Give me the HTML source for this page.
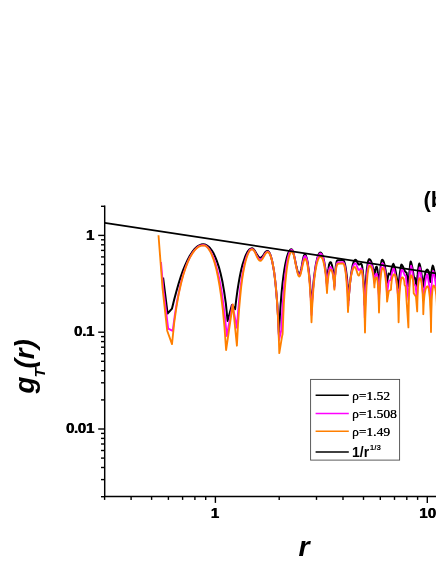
<!DOCTYPE html>
<html><head><meta charset="utf-8"><title>g_T(r)</title>
<style>
html,body{margin:0;padding:0;background:#fff;}
body{width:436px;height:564px;overflow:hidden;position:relative;font-family:"Liberation Sans",sans-serif;}
svg{position:absolute;left:0;top:0;display:block;will-change:transform;}
text{font-family:"Liberation Sans",sans-serif;fill:#000;}
.tl{font-weight:bold;font-size:15.3px;letter-spacing:-0.45px;}
.lg{font-family:"Liberation Serif",serif;font-size:13.5px;}
</style></head><body>
<svg width="436" height="564" viewBox="0 0 436 564">
<rect width="436" height="564" fill="#fff"/>
<g fill="none" stroke-linejoin="round" stroke-linecap="butt" stroke-width="1.85">
<path stroke="#000" stroke-width="2.0" d="M163.1,277.5 L167.6,313.5 L172.0,308.6 L174.2,299.4 L176.5,291.0 L178.7,283.3 L180.9,276.4 L183.1,270.2 L185.4,264.7 L187.6,259.9 L189.8,255.7 L192.1,252.2 L194.3,249.3 L196.5,247.1 L198.7,245.6 L201.0,244.6 L203.2,244.3 L204.9,244.5 L206.7,245.3 L208.4,246.5 L210.2,248.3 L211.9,250.6 L213.7,253.6 L215.4,257.3 L217.1,261.7 L218.9,267.1 L220.6,273.5 L222.4,281.5 L224.1,291.3 L225.9,303.9 L227.6,320.9 L231.9,305.0 L235.1,309.2 L236.3,299.0 L237.5,290.2 L238.7,282.6 L239.9,276.0 L241.1,270.3 L242.3,265.4 L243.6,261.2 L244.8,257.7 L246.0,254.7 L247.2,252.4 L248.4,250.6 L249.6,249.3 L250.8,248.6 L252.0,248.3 L253.0,248.7 L254.1,249.7 L255.1,251.2 L256.1,253.1 L257.2,254.9 L258.2,256.4 L259.3,257.4 L260.3,257.8 L261.2,257.5 L262.1,256.8 L263.0,255.7 L263.9,254.4 L264.7,253.0 L265.6,251.9 L266.5,251.2 L267.4,250.9 L268.2,251.2 L269.0,252.1 L269.9,253.5 L270.7,255.6 L271.5,258.4 L272.3,261.8 L273.1,266.1 L274.0,271.2 L274.8,277.3 L275.6,284.7 L276.4,293.5 L277.3,304.2 L278.1,317.5 L278.9,334.5 L279.8,317.2 L280.7,303.6 L281.6,292.7 L282.5,283.7 L283.4,276.2 L284.3,269.9 L285.2,264.7 L286.1,260.4 L287.0,256.8 L287.9,254.0 L288.8,251.9 L289.7,250.4 L290.6,249.5 L291.5,249.2 L292.5,250.2 L293.4,252.9 L294.4,256.9 L295.4,261.8 L296.4,266.6 L297.4,270.6 L298.3,273.3 L299.3,274.3 L300.0,273.5 L300.7,271.4 L301.4,268.2 L302.1,264.4 L302.7,260.6 L303.4,257.4 L304.1,255.3 L304.8,254.5 L305.3,254.7 L305.8,255.4 L306.2,256.5 L306.7,258.1 L307.2,260.2 L307.7,262.7 L308.1,265.8 L308.6,269.5 L309.1,273.8 L309.6,278.8 L310.1,284.6 L310.5,291.3 L311.0,299.0 L311.5,307.9 L312.1,298.6 L312.8,290.7 L313.4,283.8 L314.0,277.8 L314.7,272.6 L315.3,268.1 L315.9,264.3 L316.6,261.1 L317.2,258.5 L317.9,256.3 L318.5,254.7 L319.1,253.5 L319.8,252.8 L320.4,252.6 L320.9,252.7 L321.3,253.1 L321.8,253.8 L322.3,254.8 L322.8,256.0 L323.2,257.5 L323.7,259.4 L324.2,261.6 L324.6,264.2 L325.1,267.2 L325.6,270.7 L326.1,274.7 L326.5,279.3 L327.0,284.7 L327.2,280.9 L327.5,277.7 L327.7,274.9 L328.0,272.4 L328.2,270.3 L328.5,268.5 L328.7,267.0 L328.9,265.7 L329.2,264.6 L329.4,263.7 L329.7,263.0 L329.9,262.6 L330.2,262.3 L330.4,262.2 L330.7,262.3 L331.0,262.6 L331.3,263.1 L331.5,263.8 L331.8,264.7 L332.1,265.8 L332.4,267.2 L332.7,268.9 L333.0,270.8 L333.3,273.0 L333.5,275.6 L333.8,278.5 L334.1,281.9 L334.4,285.9 L334.6,281.6 L334.8,277.9 L335.1,274.7 L335.3,272.0 L335.5,269.6 L335.7,267.5 L335.9,265.7 L336.2,264.2 L336.4,263.0 L336.6,262.0 L336.8,261.3 L337.1,260.7 L337.3,260.4 L337.5,260.3 L338.2,260.3 L338.9,260.3 L339.6,260.2 L340.2,260.2 L340.9,260.2 L341.6,260.1 L342.3,260.1 L343.0,260.1 L343.4,260.3 L343.8,260.8 L344.2,261.6 L344.6,262.8 L345.0,264.3 L345.4,266.2 L345.8,268.5 L346.2,271.3 L346.6,274.5 L347.0,278.2 L347.4,282.5 L347.8,287.5 L348.2,293.2 L348.6,299.9 L349.1,293.2 L349.6,287.4 L350.1,282.4 L350.6,278.1 L351.1,274.3 L351.6,271.1 L352.1,268.3 L352.5,266.0 L353.0,264.0 L353.5,262.5 L354.0,261.3 L354.5,260.5 L355.0,260.0 L355.5,259.8 L355.9,260.0 L356.4,260.5 L356.8,261.3 L357.2,262.1 L357.6,263.0 L358.0,263.8 L358.5,264.3 L358.9,264.5 L359.2,264.5 L359.5,264.4 L359.8,264.3 L360.0,264.2 L360.3,264.0 L360.6,263.9 L360.9,263.8 L361.2,263.8 L361.4,264.0 L361.7,264.5 L361.9,265.3 L362.2,266.6 L362.4,268.2 L362.7,270.1 L362.9,272.5 L363.2,275.4 L363.4,278.7 L363.7,282.6 L363.9,287.0 L364.2,292.2 L364.4,298.1 L364.7,305.0 L365.0,297.3 L365.3,290.7 L365.7,285.0 L366.0,280.1 L366.3,275.8 L366.6,272.1 L366.9,268.9 L367.3,266.3 L367.6,264.0 L367.9,262.3 L368.2,260.9 L368.6,260.0 L368.9,259.4 L369.2,259.2 L369.6,259.3 L369.9,259.5 L370.3,259.9 L370.7,260.5 L371.1,261.2 L371.4,262.1 L371.8,263.3 L372.2,264.6 L372.5,266.1 L372.9,267.9 L373.3,270.0 L373.7,272.3 L374.0,275.1 L374.4,278.3 L374.5,276.4 L374.7,274.7 L374.8,273.2 L375.0,272.0 L375.1,270.9 L375.3,270.0 L375.4,269.2 L375.6,268.5 L375.8,267.9 L375.9,267.5 L376.1,267.1 L376.2,266.9 L376.4,266.7 L376.5,266.7 L376.7,266.8 L376.9,267.2 L377.0,267.8 L377.2,268.6 L377.4,269.7 L377.6,271.1 L377.8,272.7 L377.9,274.7 L378.1,276.9 L378.3,279.6 L378.5,282.6 L378.6,286.2 L378.8,290.3 L379.0,295.0 L379.2,289.1 L379.5,284.0 L379.7,279.6 L379.9,275.8 L380.1,272.5 L380.4,269.7 L380.6,267.3 L380.8,265.2 L381.1,263.5 L381.3,262.2 L381.5,261.1 L381.7,260.4 L382.0,259.9 L382.2,259.8 L382.5,259.9 L382.9,260.2 L383.2,260.7 L383.5,261.4 L383.9,262.3 L384.2,263.4 L384.5,264.7 L384.9,266.3 L385.2,268.2 L385.6,270.4 L385.9,272.9 L386.2,275.8 L386.6,279.1 L386.9,283.0 L388.6,273.6 L390.4,274.5 L390.8,272.6 L391.1,270.9 L391.5,269.3 L391.9,267.8 L392.3,266.5 L392.6,265.3 L393.0,264.4 L393.4,263.9 L394.0,265.1 L394.6,267.1 L395.3,269.7 L395.9,272.7 L396.5,276.1 L397.1,279.8 L397.8,283.8 L398.4,288.0 L398.8,283.9 L399.1,280.0 L399.5,276.4 L399.9,273.2 L400.3,270.2 L400.6,267.7 L401.0,265.7 L401.4,264.6 L401.8,264.9 L402.3,265.5 L402.8,266.3 L403.2,267.1 L403.6,268.1 L404.1,269.1 L404.6,270.3 L405.0,271.5 L406.6,272.8 L408.5,286.0 L408.8,281.7 L409.1,277.6 L409.3,273.8 L409.6,270.4 L409.9,267.3 L410.1,264.7 L410.4,262.6 L410.7,261.4 L411.1,262.2 L411.5,263.7 L411.9,265.5 L412.4,267.7 L412.8,270.1 L413.2,272.7 L413.6,275.5 L414.0,278.5 L414.9,277.8 L416.5,286.0 L416.9,282.0 L417.2,278.3 L417.6,274.9 L417.9,271.7 L418.2,268.9 L418.6,266.5 L418.9,264.6 L419.3,263.5 L419.8,264.7 L420.3,266.6 L420.8,269.2 L421.2,272.1 L421.7,275.4 L422.2,279.0 L422.7,282.9 L423.2,287.0 L423.5,284.1 L423.8,281.6 L424.1,279.4 L424.4,277.5 L424.7,275.9 L425.0,274.5 L425.2,273.3 L425.5,272.3 L425.8,271.4 L426.1,270.8 L426.4,270.3 L426.7,269.9 L427.0,269.7 L427.3,269.6 L427.5,269.7 L427.7,269.8 L427.9,270.1 L428.1,270.4 L428.3,270.9 L428.5,271.5 L428.8,272.2 L429.0,273.1 L429.2,274.1 L429.4,275.2 L429.6,276.6 L429.8,278.1 L430.0,279.9 L430.2,282.0 L430.5,279.1 L430.9,276.4 L431.2,273.9 L431.5,271.6 L431.8,269.6 L432.1,267.8 L432.5,266.4 L432.8,265.6 L433.3,266.6 L433.7,268.2 L434.2,270.3 L434.6,272.7 L435.1,275.4 L435.6,278.4 L436.0,281.6 L436.5,285.0"/>
<path stroke="#ff00ff" d="M161.0,262.0 L163.2,288.0 L168.2,328.6 L172.7,330.9 L174.9,314.3 L177.1,301.0 L179.3,290.0 L181.4,280.9 L183.6,273.2 L185.8,266.7 L188.0,261.2 L190.2,256.7 L192.4,253.0 L194.6,250.1 L196.7,247.8 L198.9,246.2 L201.1,245.3 L203.3,245.0 L205.0,245.3 L206.7,246.3 L208.3,248.0 L210.0,250.4 L211.7,253.5 L213.4,257.4 L215.1,262.2 L216.7,268.0 L218.4,274.8 L220.1,283.0 L221.8,292.7 L223.4,304.3 L225.1,318.4 L226.8,336.0 L232.5,304.6 L236.9,327.8 L238.0,312.6 L239.1,300.4 L240.1,290.3 L241.2,281.9 L242.3,274.8 L243.4,268.9 L244.4,263.9 L245.5,259.8 L246.6,256.4 L247.7,253.7 L248.8,251.6 L249.8,250.1 L250.9,249.3 L252.0,249.0 L253.0,249.4 L254.1,250.5 L255.1,252.2 L256.1,254.2 L257.2,256.3 L258.2,258.0 L259.3,259.1 L260.3,259.5 L261.2,259.2 L262.1,258.3 L263.0,257.1 L263.9,255.6 L264.8,254.0 L265.7,252.8 L266.6,251.9 L267.5,251.6 L268.3,251.9 L269.1,252.7 L270.0,254.2 L270.8,256.2 L271.6,258.9 L272.4,262.3 L273.2,266.6 L274.1,271.7 L274.9,277.9 L275.7,285.3 L276.5,294.5 L277.4,305.8 L278.2,320.4 L279.0,340.0 L281.4,329.7 L282.1,314.3 L282.9,301.9 L283.6,291.7 L284.3,283.2 L285.1,276.0 L285.8,270.0 L286.5,264.9 L287.3,260.7 L288.0,257.3 L288.8,254.5 L289.5,252.4 L290.2,251.0 L291.0,250.1 L291.7,249.8 L292.6,250.8 L293.6,253.6 L294.6,257.7 L295.5,262.6 L296.4,267.6 L297.4,271.7 L298.4,274.5 L299.3,275.5 L300.0,274.8 L300.7,272.6 L301.4,269.5 L302.1,265.8 L302.9,262.0 L303.6,258.9 L304.3,256.7 L305.0,256.0 L305.5,256.2 L305.9,256.9 L306.4,257.9 L306.9,259.5 L307.3,261.5 L307.8,264.1 L308.2,267.2 L308.7,270.9 L309.2,275.3 L309.6,280.6 L310.1,286.9 L310.6,294.5 L311.0,303.6 L311.5,315.0 L312.1,303.1 L312.8,293.6 L313.4,285.7 L314.0,279.2 L314.7,273.7 L315.3,269.0 L315.9,265.1 L316.6,261.9 L317.2,259.2 L317.9,257.1 L318.5,255.5 L319.1,254.4 L319.8,253.7 L320.4,253.5 L320.9,253.6 L321.3,254.0 L321.8,254.7 L322.3,255.6 L322.8,256.8 L323.2,258.3 L323.7,260.2 L324.2,262.5 L324.6,265.1 L325.1,268.3 L325.6,272.1 L326.1,276.6 L326.5,282.1 L327.0,289.0 L327.2,284.8 L327.5,281.3 L327.8,278.5 L328.0,276.2 L328.2,274.2 L328.5,272.6 L328.8,271.2 L329.0,270.0 L329.2,269.1 L329.5,268.3 L329.8,267.7 L330.0,267.3 L330.2,267.1 L330.5,267.0 L330.8,267.1 L331.1,267.3 L331.3,267.7 L331.6,268.2 L331.9,269.0 L332.2,269.9 L332.4,271.0 L332.7,272.3 L333.0,273.9 L333.3,275.8 L333.6,278.0 L333.8,280.7 L334.1,283.9 L334.4,288.0 L334.6,283.1 L334.9,279.1 L335.1,275.8 L335.4,273.1 L335.6,270.8 L335.9,268.9 L336.1,267.2 L336.3,265.9 L336.6,264.8 L336.8,263.9 L337.1,263.2 L337.3,262.8 L337.6,262.5 L337.8,262.4 L338.4,262.4 L339.1,262.4 L339.8,262.3 L340.4,262.3 L341.1,262.3 L341.7,262.2 L342.4,262.2 L343.0,262.2 L343.4,262.4 L343.8,262.8 L344.1,263.6 L344.5,264.8 L344.9,266.3 L345.3,268.2 L345.6,270.5 L346.0,273.3 L346.4,276.6 L346.8,280.5 L347.2,285.2 L347.5,290.7 L347.9,297.5 L348.3,306.0 L348.8,297.8 L349.3,291.1 L349.8,285.7 L350.3,281.1 L350.8,277.3 L351.3,274.1 L351.8,271.4 L352.3,269.1 L352.8,267.3 L353.3,265.8 L353.8,264.7 L354.3,263.9 L354.8,263.5 L355.3,263.3 L355.8,263.6 L356.2,264.3 L356.6,265.4 L357.1,266.6 L357.6,267.9 L358.0,269.0 L358.4,269.7 L358.9,270.0 L359.2,269.9 L359.5,269.8 L359.8,269.5 L360.0,269.2 L360.3,269.0 L360.6,268.7 L360.9,268.6 L361.2,268.5 L361.5,268.7 L361.7,269.2 L362.0,270.1 L362.2,271.4 L362.5,273.1 L362.7,275.3 L363.0,277.9 L363.3,281.0 L363.5,284.7 L363.8,289.2 L364.0,294.4 L364.3,300.8 L364.5,308.4 L364.8,318.0 L365.1,307.2 L365.5,298.6 L365.8,291.4 L366.1,285.5 L366.5,280.5 L366.8,276.3 L367.1,272.8 L367.5,269.8 L367.8,267.4 L368.2,265.5 L368.5,264.0 L368.8,263.0 L369.2,262.4 L369.5,262.2 L369.9,262.3 L370.2,262.5 L370.6,262.9 L370.9,263.4 L371.2,264.1 L371.6,265.0 L371.9,266.1 L372.3,267.5 L372.6,269.0 L373.0,270.9 L373.3,273.1 L373.7,275.8 L374.0,279.0 L374.4,283.0 L374.5,281.2 L374.7,279.8 L374.8,278.6 L375.0,277.6 L375.1,276.7 L375.3,276.0 L375.4,275.5 L375.6,275.0 L375.8,274.6 L375.9,274.2 L376.1,274.0 L376.2,273.8 L376.4,273.7 L376.5,273.7 L376.7,273.8 L376.9,274.1 L377.0,274.7 L377.2,275.4 L377.4,276.4 L377.6,277.7 L377.8,279.2 L377.9,281.1 L378.1,283.3 L378.3,285.9 L378.5,289.1 L378.6,292.8 L378.8,297.3 L379.0,303.0 L379.2,295.3 L379.5,289.2 L379.7,284.1 L380.0,279.9 L380.2,276.3 L380.5,273.3 L380.7,270.8 L380.9,268.7 L381.2,267.0 L381.4,265.6 L381.7,264.6 L381.9,263.9 L382.2,263.4 L382.4,263.3 L382.7,263.4 L383.1,263.7 L383.4,264.3 L383.7,265.1 L384.0,266.2 L384.4,267.5 L384.7,269.1 L385.0,271.0 L385.4,273.4 L385.7,276.1 L386.0,279.4 L386.3,283.3 L386.7,288.1 L387.0,294.0 L388.8,281.0 L390.6,280.0 L391.0,277.9 L391.4,275.9 L391.7,274.1 L392.1,272.5 L392.5,271.0 L392.9,269.7 L393.2,268.7 L393.6,268.1 L394.2,269.7 L394.8,272.4 L395.4,275.8 L396.1,279.8 L396.7,284.2 L397.3,289.1 L397.9,294.4 L398.5,300.0 L398.9,294.6 L399.3,289.5 L399.7,284.8 L400.1,280.5 L400.5,276.6 L400.9,273.3 L401.3,270.7 L401.7,269.2 L402.1,269.5 L402.4,270.0 L402.8,270.6 L403.1,271.3 L403.5,272.1 L403.9,273.0 L404.2,274.0 L404.6,275.0 L405.8,276.0 L408.4,300.0 L408.7,293.9 L409.1,288.3 L409.4,283.0 L409.8,278.2 L410.1,273.9 L410.4,270.2 L410.8,267.3 L411.1,265.6 L411.4,266.5 L411.8,268.0 L412.1,269.9 L412.5,272.2 L412.8,274.7 L413.1,277.4 L413.5,280.3 L413.8,283.5 L415.6,286.0 L416.9,299.0 L417.2,293.4 L417.6,288.2 L417.9,283.4 L418.3,279.0 L418.6,275.0 L419.0,271.6 L419.3,268.9 L419.7,267.4 L420.1,268.9 L420.6,271.5 L421.0,274.8 L421.4,278.6 L421.9,282.9 L422.3,287.6 L422.8,292.6 L423.2,298.0 L423.7,293.8 L424.2,289.9 L424.7,286.2 L425.1,282.9 L425.6,279.9 L426.1,277.4 L426.6,275.4 L427.1,274.2 L427.6,275.5 L428.0,277.7 L428.4,280.4 L428.9,283.6 L429.4,287.3 L429.8,291.2 L430.2,295.5 L430.7,300.0 L431.0,294.9 L431.3,290.1 L431.6,285.7 L431.9,281.6 L432.3,278.0 L432.6,274.9 L432.9,272.4 L433.2,271.0 L433.7,272.2 L434.1,274.2 L434.6,276.8 L435.1,279.8 L435.6,283.1 L436.1,286.8 L436.5,290.8 L437.0,295.0"/>
<path stroke="#ff7f00" d="M158.5,235.2 L162.5,288.0 L167.2,330.7 L172.0,344.1 L174.2,322.8 L176.5,306.7 L178.7,294.0 L181.0,283.7 L183.2,275.2 L185.5,268.2 L187.7,262.4 L189.9,257.6 L192.2,253.7 L194.4,250.6 L196.7,248.2 L198.9,246.6 L201.2,245.6 L203.4,245.3 L205.0,245.6 L206.6,246.7 L208.3,248.4 L209.9,250.9 L211.5,254.2 L213.1,258.3 L214.8,263.4 L216.4,269.6 L218.0,277.0 L219.6,286.0 L221.2,296.9 L222.9,310.3 L224.5,327.4 L226.1,350.0 L232.8,304.4 L236.9,345.7 L238.0,324.9 L239.1,309.2 L240.2,296.8 L241.2,286.8 L242.3,278.5 L243.4,271.7 L244.5,266.0 L245.6,261.3 L246.7,257.5 L247.8,254.5 L248.8,252.2 L249.9,250.6 L251.0,249.6 L252.1,249.3 L253.1,249.7 L254.2,251.0 L255.2,252.8 L256.2,255.1 L257.2,257.3 L258.2,259.1 L259.3,260.4 L260.3,260.8 L261.2,260.5 L262.1,259.5 L263.0,258.1 L264.0,256.4 L264.9,254.7 L265.8,253.3 L266.7,252.3 L267.6,252.0 L268.4,252.3 L269.3,253.2 L270.1,254.7 L270.9,256.9 L271.8,259.7 L272.6,263.3 L273.5,267.8 L274.3,273.3 L275.1,279.9 L276.0,288.1 L276.8,298.2 L277.6,311.1 L278.5,328.3 L279.3,353.1 L282.0,336.6 L282.6,334.0 L283.3,316.2 L283.9,302.7 L284.6,292.1 L285.3,283.5 L286.0,276.4 L286.6,270.6 L287.3,265.7 L288.0,261.7 L288.6,258.4 L289.3,255.8 L290.0,253.9 L290.7,252.5 L291.3,251.7 L292.0,251.4 L292.9,252.4 L293.8,255.1 L294.7,259.2 L295.6,264.0 L296.6,268.8 L297.5,272.9 L298.4,275.6 L299.3,276.6 L300.0,275.9 L300.7,274.0 L301.4,271.1 L302.1,267.8 L302.9,264.4 L303.6,261.5 L304.3,259.6 L305.0,258.9 L305.5,259.1 L305.9,259.7 L306.4,260.8 L306.9,262.3 L307.3,264.3 L307.8,266.8 L308.2,269.9 L308.7,273.6 L309.2,278.1 L309.6,283.5 L310.1,290.1 L310.6,298.3 L311.0,308.6 L311.5,322.3 L312.1,308.1 L312.8,297.4 L313.4,289.0 L314.0,282.1 L314.7,276.5 L315.3,271.8 L315.9,268.0 L316.6,264.8 L317.2,262.2 L317.9,260.1 L318.5,258.6 L319.1,257.5 L319.8,256.8 L320.4,256.6 L320.9,256.7 L321.3,257.1 L321.8,257.7 L322.3,258.5 L322.8,259.7 L323.2,261.1 L323.7,262.9 L324.2,265.0 L324.6,267.6 L325.1,270.7 L325.6,274.5 L326.1,279.2 L326.5,285.1 L327.0,293.0 L327.3,288.0 L327.5,284.2 L327.8,281.2 L328.1,278.8 L328.3,276.8 L328.6,275.2 L328.9,273.8 L329.1,272.7 L329.4,271.8 L329.6,271.0 L329.9,270.5 L330.2,270.1 L330.4,269.9 L330.7,269.8 L331.0,269.9 L331.2,270.1 L331.5,270.4 L331.8,270.9 L332.0,271.5 L332.3,272.3 L332.5,273.2 L332.8,274.4 L333.1,275.8 L333.3,277.5 L333.6,279.6 L333.9,282.1 L334.1,285.3 L334.4,289.6 L334.7,284.0 L334.9,279.8 L335.2,276.5 L335.4,273.8 L335.7,271.5 L335.9,269.7 L336.2,268.2 L336.5,266.9 L336.7,265.9 L337.0,265.1 L337.2,264.5 L337.5,264.0 L337.7,263.8 L338.0,263.7 L338.6,263.7 L339.2,263.7 L339.9,263.6 L340.5,263.6 L341.1,263.6 L341.8,263.5 L342.4,263.5 L343.0,263.5 L343.4,263.7 L343.7,264.1 L344.1,264.9 L344.4,266.1 L344.8,267.6 L345.1,269.5 L345.5,271.9 L345.9,274.7 L346.2,278.2 L346.6,282.4 L346.9,287.4 L347.3,293.6 L347.6,301.5 L348.0,312.0 L348.5,302.3 L349.0,295.0 L349.5,289.2 L349.9,284.5 L350.4,280.6 L350.9,277.4 L351.4,274.8 L351.9,272.6 L352.4,270.8 L352.9,269.4 L353.3,268.3 L353.8,267.6 L354.3,267.1 L354.8,267.0 L355.3,267.3 L355.8,268.3 L356.3,269.7 L356.8,271.3 L357.3,272.9 L357.8,274.3 L358.3,275.3 L358.8,275.6 L359.1,275.4 L359.4,274.8 L359.7,274.0 L360.0,273.0 L360.3,271.9 L360.6,271.1 L360.9,270.5 L361.2,270.3 L361.5,270.5 L361.7,271.1 L362.0,272.2 L362.3,273.6 L362.6,275.6 L362.8,278.0 L363.1,281.1 L363.4,284.7 L363.6,289.2 L363.9,294.5 L364.2,301.0 L364.5,309.0 L364.7,319.1 L365.0,332.6 L365.3,318.2 L365.7,307.3 L366.0,298.7 L366.3,291.8 L366.6,286.0 L367.0,281.3 L367.3,277.4 L367.6,274.1 L368.0,271.5 L368.3,269.4 L368.6,267.8 L368.9,266.7 L369.3,266.0 L369.6,265.8 L369.9,265.9 L370.3,266.1 L370.6,266.4 L371.0,267.0 L371.3,267.6 L371.7,268.5 L372.0,269.5 L372.3,270.8 L372.7,272.3 L373.0,274.2 L373.4,276.4 L373.7,279.2 L374.1,282.7 L374.4,287.4 L374.5,285.2 L374.7,283.6 L374.8,282.3 L375.0,281.2 L375.1,280.4 L375.3,279.6 L375.4,279.0 L375.6,278.6 L375.8,278.2 L375.9,277.8 L376.1,277.6 L376.2,277.4 L376.4,277.3 L376.5,277.3 L376.7,277.4 L376.9,277.8 L377.0,278.3 L377.2,279.2 L377.4,280.3 L377.6,281.7 L377.8,283.4 L377.9,285.5 L378.1,288.0 L378.3,291.0 L378.5,294.6 L378.6,299.2 L378.8,304.9 L379.0,312.5 L379.3,302.9 L379.5,295.6 L379.8,289.9 L380.1,285.3 L380.3,281.5 L380.6,278.3 L380.9,275.7 L381.1,273.5 L381.4,271.8 L381.6,270.4 L381.9,269.3 L382.2,268.6 L382.4,268.1 L382.7,268.0 L383.0,268.1 L383.3,268.4 L383.6,269.0 L384.0,269.8 L384.3,270.9 L384.6,272.2 L384.9,273.8 L385.2,275.8 L385.5,278.2 L385.8,281.1 L386.2,284.6 L386.5,288.9 L386.8,294.3 L387.1,301.6 L388.8,291.0 L391.0,289.8 L391.2,285.3 L391.5,282.6 L391.7,280.7 L391.9,279.2 L392.2,278.1 L392.4,277.2 L392.6,276.4 L392.9,275.8 L393.1,275.3 L393.4,274.9 L393.6,274.7 L393.8,274.5 L394.1,274.3 L394.3,274.3 L394.6,274.4 L394.9,274.8 L395.2,275.4 L395.5,276.3 L395.8,277.5 L396.1,279.0 L396.5,280.9 L396.8,283.2 L397.1,286.0 L397.4,289.6 L397.7,294.1 L398.0,300.0 L398.3,308.4 L398.6,322.3 L398.9,309.3 L399.1,301.4 L399.4,295.8 L399.7,291.6 L400.0,288.3 L400.2,285.6 L400.5,283.5 L400.8,281.7 L401.0,280.3 L401.3,279.2 L401.6,278.3 L401.9,277.8 L402.1,277.4 L402.4,277.3 L402.6,277.3 L402.7,277.4 L402.9,277.5 L403.0,277.6 L403.2,277.8 L403.3,278.1 L403.5,278.4 L403.7,278.7 L403.8,279.2 L404.0,279.8 L404.1,280.5 L404.3,281.4 L404.4,282.8 L404.6,285.0 L405.6,286.5 L408.4,327.4 L408.6,312.3 L408.8,303.2 L409.0,296.8 L409.2,291.9 L409.4,288.0 L409.6,284.9 L409.8,282.4 L410.0,280.4 L410.2,278.8 L410.4,277.5 L410.6,276.5 L410.8,275.8 L411.0,275.4 L411.2,275.3 L411.4,275.3 L411.6,275.5 L411.7,275.7 L411.9,276.0 L412.1,276.5 L412.3,277.1 L412.4,277.8 L412.6,278.6 L412.8,279.7 L413.0,281.0 L413.2,282.7 L413.3,284.9 L413.5,288.0 L413.7,293.2 L416.0,296.8 L417.2,311.4 L417.4,301.8 L417.6,296.0 L417.8,291.9 L417.9,288.8 L418.1,286.3 L418.3,284.3 L418.5,282.7 L418.7,281.4 L418.9,280.4 L419.1,279.6 L419.2,279.0 L419.4,278.5 L419.6,278.3 L419.8,278.2 L420.1,278.3 L420.3,278.6 L420.6,279.0 L420.8,279.7 L421.1,280.6 L421.3,281.7 L421.6,283.1 L421.8,284.9 L422.1,287.0 L422.3,289.7 L422.6,293.0 L422.8,297.5 L423.1,303.8 L423.3,314.2 L423.6,306.1 L423.9,301.2 L424.2,297.8 L424.5,295.2 L424.8,293.1 L425.1,291.5 L425.4,290.1 L425.7,289.0 L426.0,288.2 L426.3,287.5 L426.6,286.9 L426.9,286.6 L427.2,286.4 L427.5,286.3 L427.8,286.4 L428.0,286.8 L428.2,287.4 L428.5,288.2 L428.8,289.3 L429.0,290.8 L429.2,292.6 L429.5,294.8 L429.8,297.5 L430.0,300.8 L430.2,305.1 L430.5,310.8 L430.8,318.8 L431.0,332.0 L431.2,318.5 L431.4,310.4 L431.6,304.7 L431.7,300.3 L431.9,296.9 L432.1,294.1 L432.3,291.9 L432.5,290.0 L432.7,288.6 L432.9,287.4 L433.0,286.6 L433.2,286.0 L433.4,285.6 L433.6,285.5 L433.8,285.6 L434.1,285.8 L434.3,286.1 L434.6,286.5 L434.8,287.1 L435.1,287.9 L435.3,288.9 L435.5,290.0 L435.8,291.5 L436.0,293.3 L436.3,295.6 L436.5,298.6 L436.8,302.9 L437.0,310.0"/>
<path stroke="#000" stroke-width="1.75" d="M104.7,222.8 L440.0,273.9"/>
</g>
<g stroke="#000" stroke-width="1.45" fill="none" stroke-linecap="square">
<path d="M104.7,206.3 L104.7,496.5 L440,496.5"/>
</g>
<g stroke="#000" stroke-width="1.4" fill="none">
<line x1="101.0" y1="496.7" x2="104.7" y2="496.7"/>
<line x1="101.0" y1="479.6" x2="104.7" y2="479.6"/>
<line x1="101.0" y1="467.5" x2="104.7" y2="467.5"/>
<line x1="101.0" y1="458.1" x2="104.7" y2="458.1"/>
<line x1="101.0" y1="450.5" x2="104.7" y2="450.5"/>
<line x1="101.0" y1="444.0" x2="104.7" y2="444.0"/>
<line x1="101.0" y1="438.4" x2="104.7" y2="438.4"/>
<line x1="101.0" y1="433.4" x2="104.7" y2="433.4"/>
<line x1="98.2" y1="429.0" x2="104.7" y2="429.0"/>
<line x1="101.0" y1="399.9" x2="104.7" y2="399.9"/>
<line x1="101.0" y1="382.8" x2="104.7" y2="382.8"/>
<line x1="101.0" y1="370.7" x2="104.7" y2="370.7"/>
<line x1="101.0" y1="361.3" x2="104.7" y2="361.3"/>
<line x1="101.0" y1="353.7" x2="104.7" y2="353.7"/>
<line x1="101.0" y1="347.2" x2="104.7" y2="347.2"/>
<line x1="101.0" y1="341.6" x2="104.7" y2="341.6"/>
<line x1="101.0" y1="336.6" x2="104.7" y2="336.6"/>
<line x1="98.2" y1="332.2" x2="104.7" y2="332.2"/>
<line x1="101.0" y1="303.1" x2="104.7" y2="303.1"/>
<line x1="101.0" y1="286.0" x2="104.7" y2="286.0"/>
<line x1="101.0" y1="273.9" x2="104.7" y2="273.9"/>
<line x1="101.0" y1="264.5" x2="104.7" y2="264.5"/>
<line x1="101.0" y1="256.9" x2="104.7" y2="256.9"/>
<line x1="101.0" y1="250.4" x2="104.7" y2="250.4"/>
<line x1="101.0" y1="244.8" x2="104.7" y2="244.8"/>
<line x1="101.0" y1="239.8" x2="104.7" y2="239.8"/>
<line x1="98.2" y1="235.4" x2="104.7" y2="235.4"/>
<line x1="101.0" y1="206.3" x2="104.7" y2="206.3"/>
<line x1="104.6" y1="496.5" x2="104.6" y2="499.9"/>
<line x1="131.1" y1="496.5" x2="131.1" y2="499.9"/>
<line x1="151.6" y1="496.5" x2="151.6" y2="499.9"/>
<line x1="168.4" y1="496.5" x2="168.4" y2="499.9"/>
<line x1="182.6" y1="496.5" x2="182.6" y2="499.9"/>
<line x1="194.9" y1="496.5" x2="194.9" y2="499.9"/>
<line x1="205.7" y1="496.5" x2="205.7" y2="499.9"/>
<line x1="215.4" y1="496.5" x2="215.4" y2="502.9"/>
<line x1="279.2" y1="496.5" x2="279.2" y2="499.9"/>
<line x1="316.5" y1="496.5" x2="316.5" y2="499.9"/>
<line x1="343.0" y1="496.5" x2="343.0" y2="499.9"/>
<line x1="363.5" y1="496.5" x2="363.5" y2="499.9"/>
<line x1="380.3" y1="496.5" x2="380.3" y2="499.9"/>
<line x1="394.5" y1="496.5" x2="394.5" y2="499.9"/>
<line x1="406.8" y1="496.5" x2="406.8" y2="499.9"/>
<line x1="417.6" y1="496.5" x2="417.6" y2="499.9"/>
<line x1="427.3" y1="496.5" x2="427.3" y2="502.9"/>
</g>
<g class="tl" text-anchor="end">
<text x="93.75" y="239.6">1</text>
<text x="93.75" y="336.4">0.1</text>
<text x="93.75" y="433.2">0.01</text>
</g>
<g class="tl" text-anchor="middle" style="letter-spacing:0">
<text x="214.75" y="518.3">1</text>
<text x="427.45" y="518.3">10</text>
</g>
<g class="tl" text-anchor="end">
<text x="94.25" y="239.6">1</text>
<text x="94.25" y="336.4">0.1</text>
<text x="94.25" y="433.2">0.01</text>
</g>
<g class="tl" text-anchor="middle" style="letter-spacing:0">
<text x="215.25" y="518.3">1</text>
<text x="427.95" y="518.3">10</text>
</g>
<text x="298.5" y="556" font-size="28.5" font-weight="bold" font-style="italic">r</text>
<text x="423.5" y="206.7" font-size="22" font-weight="bold">(b)</text>
<text transform="translate(33.8,393.5) rotate(-90)" font-size="27.8" font-weight="bold" font-style="italic">g<tspan font-size="15.5" dy="11.2" dx="-1">T</tspan><tspan dy="-11.2" dx="-0.5">(r)</tspan></text>
<!-- legend -->
<rect x="310.6" y="379.4" width="89" height="80.7" fill="#fff" stroke="#4a4a4a" stroke-width="0.9"/>
<g stroke-width="1.45" fill="none">
<line x1="315.6" y1="395.2" x2="348.8" y2="395.2" stroke="#000"/>
<line x1="315.6" y1="413.4" x2="348.8" y2="413.4" stroke="#ff00ff"/>
<line x1="315.6" y1="431.3" x2="348.8" y2="431.3" stroke="#ff7f00"/>
<line x1="315.6" y1="452.0" x2="348.8" y2="452.0" stroke="#000"/>
</g>
<text class="lg" x="352" y="399.6">ρ=1.52</text>
<text class="lg" x="352" y="417.8">ρ=1.508</text>
<text class="lg" x="352" y="435.7">ρ=1.49</text>
<text class="lg" x="352.25" y="399.6">ρ=1.52</text>
<text class="lg" x="352.25" y="417.8">ρ=1.508</text>
<text class="lg" x="352.25" y="435.7">ρ=1.49</text>
<text x="352" y="456.8" font-size="14" font-weight="bold">1/r<tspan font-size="8" dy="-7" dx="0.6">1/3</tspan></text>
</svg>
</body></html>
